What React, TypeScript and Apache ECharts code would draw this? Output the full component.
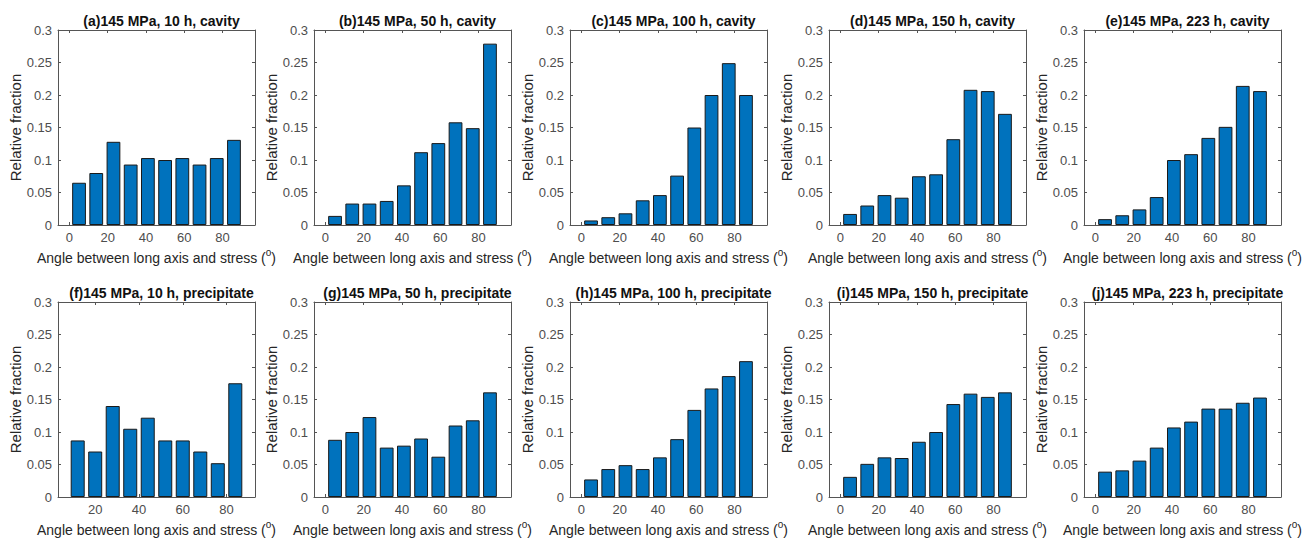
import React, { useEffect, useRef } from 'react';
import * as echarts from 'echarts';

// bin centres (degrees)
const ANGLES = [5, 14, 23, 32, 41, 50, 59, 68, 77, 86];
const ANGLES_F = [12, 20, 28, 36, 44, 52, 60, 68, 76, 84];

const X_TICKS = [0, 20, 40, 60, 80];
const X_TICKS_F = [20, 40, 60, 80];

const TITLES = [
  '(a)145 MPa, 10 h, cavity',
  '(b)145 MPa, 50 h, cavity',
  '(c)145 MPa, 100 h, cavity',
  '(d)145 MPa, 150 h, cavity',
  '(e)145 MPa, 223 h, cavity',
  '(f)145 MPa, 10 h, precipitate',
  '(g)145 MPa, 50 h, precipitate',
  '(h)145 MPa, 100 h, precipitate',
  '(i)145 MPa, 150 h, precipitate',
  '(j)145 MPa, 223 h, precipitate',
];

const CAVITY_10H = [0.065, 0.08, 0.128, 0.093, 0.103, 0.1, 0.103, 0.093, 0.103, 0.131];
const CAVITY_50H = [0.014, 0.033, 0.033, 0.037, 0.061, 0.112, 0.126, 0.158, 0.149, 0.279];
const CAVITY_100H = [0.007, 0.012, 0.018, 0.038, 0.046, 0.076, 0.15, 0.2, 0.249, 0.2];
const CAVITY_150H = [0.017, 0.03, 0.046, 0.042, 0.075, 0.078, 0.132, 0.208, 0.206, 0.171];
const CAVITY_223H = [0.009, 0.015, 0.024, 0.043, 0.1, 0.109, 0.134, 0.151, 0.214, 0.206];
const PRECIP_10H = [0.087, 0.07, 0.14, 0.105, 0.122, 0.087, 0.087, 0.07, 0.052, 0.175];
const PRECIP_50H = [0.088, 0.1, 0.123, 0.076, 0.079, 0.09, 0.062, 0.11, 0.118, 0.161];
const PRECIP_100H = [0.027, 0.043, 0.049, 0.043, 0.061, 0.089, 0.134, 0.167, 0.186, 0.209];
const PRECIP_150H = [0.031, 0.051, 0.061, 0.06, 0.085, 0.1, 0.143, 0.159, 0.154, 0.161];
const PRECIP_223H = [0.039, 0.041, 0.056, 0.076, 0.107, 0.116, 0.136, 0.136, 0.145, 0.153];

const VALUES = [
  CAVITY_10H, CAVITY_50H, CAVITY_100H, CAVITY_150H, CAVITY_223H,
  PRECIP_10H, PRECIP_50H, PRECIP_100H, PRECIP_150H, PRECIP_223H,
];

const FONT = 'Arial, "Liberation Sans", Helvetica, sans-serif';
const BAR_COLOR = '#0072BD';
const AXIS_COLOR = '#555';
const LABEL_COLOR = '#4d4d4d';

const COL_LEFT = [58, 314, 570, 829, 1084];
const ROW_TOP = [30, 302];
const GRID_W = 197;
const GRID_H = 195;

export default function App() {
  const ref = useRef<HTMLDivElement>(null);

  useEffect(() => {
    if (!ref.current) return;
    const chart = echarts.init(ref.current, null, { renderer: 'svg' });

    const grids: any[] = [];
    const xAxes: any[] = [];
    const yAxes: any[] = [];
    const series: any[] = [];
    const titles: any[] = [];

    VALUES.forEach((vals, i) => {
      const row = Math.floor(i / 5);
      const col = i % 5;
      const isF = i === 5;
      const angles = isF ? ANGLES_F : ANGLES;
      const ticks = isF ? X_TICKS_F : X_TICKS;
      const xMin = isF ? 3 : -6;
      const xMax = isF ? 93 : 97;
      const left = COL_LEFT[col];
      const top = ROW_TOP[row];
      const barPx = (0.8 * (angles[1] - angles[0]) * GRID_W) / (xMax - xMin);

      grids.push({ left, top, width: GRID_W, height: GRID_H, containLabel: false });

      titles.push({
        text: TITLES[i],
        left: left + GRID_W / 2,
        top: top - 21,
        textAlign: 'center',
        textStyle: { fontFamily: FONT, fontSize: 14, fontWeight: 'bold', color: '#111' },
      });

      const tick = { show: true, inside: true, length: 3, lineStyle: { color: AXIS_COLOR }, customValues: ticks };
      xAxes.push({
        type: 'value',
        gridIndex: i,
        position: 'bottom',
        min: xMin,
        max: xMax,
        axisLine: { show: true, onZero: false, lineStyle: { color: AXIS_COLOR } },
        axisTick: tick,
        splitLine: { show: false },
        axisLabel: { customValues: ticks, color: LABEL_COLOR, fontFamily: FONT, fontSize: 13, margin: 6 },
        name: 'Angle between long axis and stress ({sup|o})',
        nameLocation: 'middle',
        nameGap: 22,
        nameTextStyle: {
          fontFamily: FONT,
          fontSize: 14,
          color: '#262626',
          rich: { sup: { fontFamily: FONT, fontSize: 10, color: '#262626', padding: [0, 0, 11, 0] } },
        },
      });
      xAxes.push({
        type: 'value',
        gridIndex: i,
        position: 'top',
        min: xMin,
        max: xMax,
        axisLine: { show: true, onZero: false, lineStyle: { color: AXIS_COLOR } },
        axisTick: tick,
        splitLine: { show: false },
        axisLabel: { show: false },
      });

      const yTick = { show: true, inside: true, length: 3, lineStyle: { color: AXIS_COLOR } };
      yAxes.push({
        type: 'value',
        gridIndex: i,
        position: 'left',
        min: 0,
        max: 0.3,
        interval: 0.05,
        axisLine: { show: true, onZero: false, lineStyle: { color: AXIS_COLOR } },
        axisTick: yTick,
        splitLine: { show: false },
        axisLabel: { color: LABEL_COLOR, fontFamily: FONT, fontSize: 13, margin: 6 },
        name: 'Relative fraction',
        nameLocation: 'middle',
        nameGap: 33,
        nameTextStyle: { fontFamily: FONT, fontSize: 15, color: '#262626' },
      });
      yAxes.push({
        type: 'value',
        gridIndex: i,
        position: 'right',
        min: 0,
        max: 0.3,
        interval: 0.05,
        axisLine: { show: true, onZero: false, lineStyle: { color: AXIS_COLOR } },
        axisTick: yTick,
        splitLine: { show: false },
        axisLabel: { show: false },
      });

      series.push({
        type: 'bar',
        xAxisIndex: i * 2,
        yAxisIndex: i * 2,
        barWidth: barPx,
        data: angles.map((a, k) => [a, vals[k]]),
        itemStyle: { color: BAR_COLOR, borderColor: '#1a1a1a', borderWidth: 1 },
        silent: true,
      });
    });

    chart.setOption({
      animation: false,
      backgroundColor: '#fff',
      title: titles,
      grid: grids,
      xAxis: xAxes,
      yAxis: yAxes,
      series,
    });

    return () => chart.dispose();
  }, []);

  return (
    <div
      ref={ref}
      style={{ position: 'absolute', left: 0, top: 0, width: 1305, height: 539, background: '#fff' }}
    />
  );
}
